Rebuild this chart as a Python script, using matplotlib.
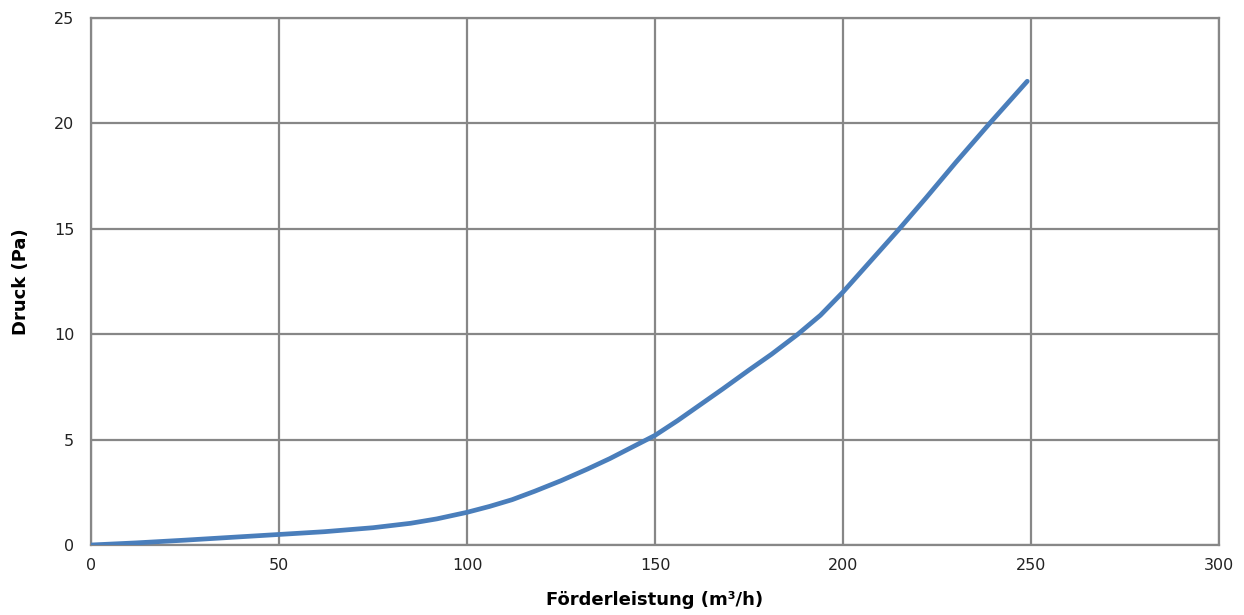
import matplotlib
import matplotlib.pyplot as plt

matplotlib.use('Agg')

# values
flow = [0, 12, 25, 37, 50, 62, 75, 85, 92, 100, 106, 112, 118, 125, 132, 138, 144,
        150, 156, 162, 168, 175, 181, 188, 194, 200, 207, 215, 222, 230, 239, 249]
pressure = [0, 0.1, 0.23, 0.36, 0.5, 0.63, 0.82, 1.03, 1.24, 1.55, 1.83, 2.15, 2.55,
            3.05, 3.6, 4.1, 4.65, 5.2, 5.9, 6.65, 7.4, 8.3, 9.05, 10, 10.9, 12,
            13.4, 15, 16.45, 18.15, 20, 22]
x_ticks = [0, 50, 100, 150, 200, 250, 300]
y_ticks = [0, 5, 10, 15, 20, 25]

plt.rcParams['font.family'] = ['DejaVu Sans']

fig = plt.figure(figsize=(12.44, 6.15), dpi=100)
ax = fig.add_axes([91 / 1244, 70 / 615, 1128 / 1244, 527 / 615])

grid_col = '#878787'
ax.plot(flow, pressure, color='#4a7ebb', lw=3.4, solid_capstyle='round',
        solid_joinstyle='round', zorder=3)

ax.set_xlim(0, 300)
ax.set_ylim(0, 25)
ax.set_xticks(x_ticks)
ax.set_yticks(y_ticks)
ax.grid(True, color=grid_col, lw=1.6)
ax.set_axisbelow(True)
for sp in ax.spines.values():
    sp.set_color(grid_col)
    sp.set_linewidth(1.6)
ax.tick_params(length=0, labelsize=11.5, colors='#222222', pad=9)
ax.tick_params(axis='y', pad=12)

ax.set_xlabel('Förderleistung (m³/h)', fontsize=13, fontweight='bold', labelpad=13)
ax.set_ylabel('Druck (Pa)', fontsize=13, fontweight='bold', labelpad=17)

fig.savefig('out.png', dpi=100)
